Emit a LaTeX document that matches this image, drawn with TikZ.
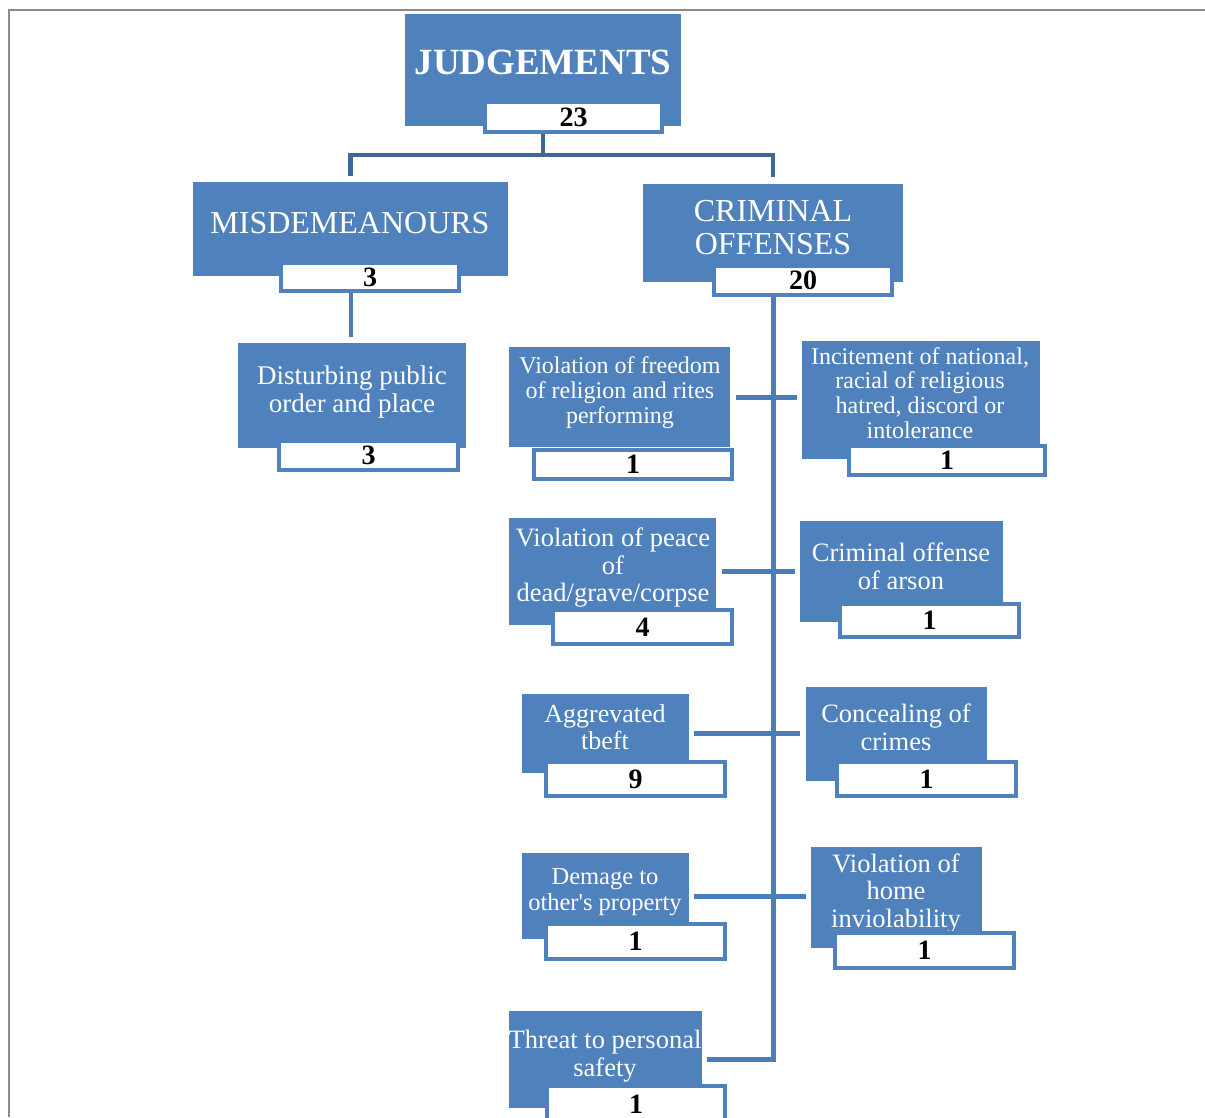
\documentclass[tikz,border=0pt]{standalone}
\usepackage{fontspec}
\setmainfont{Liberation Serif}[Ligatures=TeXOff]
\definecolor{boxblue}{HTML}{4F81BD}
\definecolor{lineblue}{HTML}{4A7EBB}
\definecolor{topblue}{HTML}{3F6797}
\definecolor{framegray}{HTML}{8C8C8C}

\begin{document}
\begin{tikzpicture}[x=1pt,y=-1pt,
  catbox/.style={rectangle,fill=boxblue,inner sep=0pt},
  cattext/.style={text=white,align=center,inner sep=0pt},
  countbox/.style={rectangle,fill=white,draw=boxblue,line width=4pt,inner sep=0pt,
    font=\fontsize{28}{28}\selectfont\bfseries},
  branch/.style={lineblue,line width=5pt},
  topline/.style={topblue,line width=4.5pt}]
  \clip (0,0) rectangle (1205,1117);
  % page frame
  \draw[framegray,line width=1.5pt] (9,1117) -- (9,10) -- (1205,10);

  % Top of the tree
  \node[catbox,minimum width=276pt,minimum height=112pt] (judg) at (543,70) {};
  \node[cattext,font=\fontsize{37}{37}\selectfont\bfseries] (judgtxt) at (543,62) {JUDGEMENTS};
  \node[catbox,minimum width=315pt,minimum height=94pt] (misd) at (350.5,229) {};
  \node[cattext,font=\fontsize{32}{33}\selectfont] (misdtxt) at (350,223) {MISDEMEANOURS};
  \node[catbox,minimum width=260pt,minimum height=98pt] (crim) at (773,233) {};
  \node[cattext,font=\fontsize{32}{33}\selectfont] (crimtxt) at (773,228) {CRIMINAL\\OFFENSES};
  \node[catbox,minimum width=228pt,minimum height=105pt] (disturb) at (352,395.5) {};
  \node[cattext,font=\fontsize{27}{28}\selectfont] (disturbtxt) at (352,392) {Disturbing public\\order and place};

  % Criminal offenses, left column
  \node[catbox,minimum width=221pt,minimum height=100pt] (relig) at (619.5,397) {};
  \node[cattext,font=\fontsize{24}{25}\selectfont] (religtxt) at (620,393) {Violation of freedom\\of religion and rites\\performing};
  \node[catbox,minimum width=207pt,minimum height=107pt] (peace) at (612.5,571.5) {};
  \node[cattext,font=\fontsize{26.5}{27.5}\selectfont] (peacetxt) at (613,568) {Violation of peace\\of\\dead/grave/corpse};
  \node[catbox,minimum width=167pt,minimum height=79pt] (theft) at (605.5,733.5) {};
  \node[cattext,font=\fontsize{26}{27}\selectfont] (thefttxt) at (605,727) {Aggrevated\\tbeft};
  \node[catbox,minimum width=167pt,minimum height=86pt] (damage) at (605.5,896) {};
  \node[cattext,font=\fontsize{24.5}{26}\selectfont] (damagetxt) at (605,892) {Demage to\\other's property};
  \node[catbox,minimum width=193pt,minimum height=97pt] (threat) at (605.5,1059.5) {};
  \node[cattext,font=\fontsize{26.5}{28}\selectfont] (threattxt) at (605,1056) {Threat to personal\\safety};

  % Criminal offenses, right column
  \node[catbox,minimum width=238pt,minimum height=118pt] (incite) at (921,400) {};
  \node[cattext,font=\fontsize{24}{24.7}\selectfont] (incitetxt) at (920,393) {Incitement of national,\\racial of religious\\hatred, discord or\\intolerance};
  \node[catbox,minimum width=203pt,minimum height=101pt] (arson) at (901.5,571.5) {};
  \node[cattext,font=\fontsize{26.5}{28}\selectfont] (arsontxt) at (901,566) {Criminal offense\\of arson};
  \node[catbox,minimum width=181pt,minimum height=94pt] (conceal) at (896.5,734) {};
  \node[cattext,font=\fontsize{26.5}{28}\selectfont] (concealtxt) at (896,727) {Concealing of\\crimes};
  \node[catbox,minimum width=171pt,minimum height=101pt] (home) at (896.5,897.5) {};
  \node[cattext,font=\fontsize{26.5}{27.5}\selectfont] (hometxt) at (896,893.5) {Violation of\\home\\inviolability};

  % connectors
  \draw[topline,shorten >=6pt] (judg.south) -- ++(0,29) -| (misd.north);
  \draw[topline,shorten >=7pt] (judg.south) ++(0,29) -| (crim.north);
  \draw[branch,line width=4pt,shorten >=6pt] (misd.south) -- (misd.south |- disturb.north);
  \draw[branch,shorten >=5pt] (crim.south) |- (threat.east);
  \draw[branch,shorten <=6pt,shorten >=5pt] (relig.east) -- (relig.east -| incite.west);
  \draw[branch,shorten <=6pt,shorten >=5pt] (peace.east) -- (peace.east -| arson.west);
  \draw[branch,shorten <=5pt,shorten >=6pt] (theft.east) -- (theft.east -| conceal.west);
  \draw[branch,shorten <=5pt,shorten >=5pt] (damage.east) -- (damage.east -| home.west);

  % counts
  \node[countbox,minimum width=177pt,minimum height=30pt] (judgnum) at (573.5,117) {23};
  \node[countbox,minimum width=178pt,minimum height=28pt] (misdnum) at (370,277) {3};
  \node[countbox,minimum width=178pt,minimum height=29pt] (crimnum) at (803,280.5) {20};
  \node[countbox,minimum width=179pt,minimum height=29pt] (disturbnum) at (368.5,455.5) {3};
  \node[countbox,minimum width=198pt,minimum height=29pt] (relignum) at (633,464.5) {1};
  \node[countbox,minimum width=196pt,minimum height=29pt] (incitenum) at (947,460.5) {1};
  \node[countbox,minimum width=179pt,minimum height=34pt] (peacenum) at (642.5,627) {4};
  \node[countbox,minimum width=179pt,minimum height=33pt] (arsonnum) at (929.5,620.5) {1};
  \node[countbox,minimum width=179pt,minimum height=34pt] (theftnum) at (635.5,779) {9};
  \node[countbox,minimum width=179pt,minimum height=34pt] (concealnum) at (926.5,779) {1};
  \node[countbox,minimum width=179pt,minimum height=35pt] (damagenum) at (635.5,941.5) {1};
  \node[countbox,minimum width=179pt,minimum height=35pt] (homenum) at (924.5,950.5) {1};
  \node[countbox,minimum width=178pt,minimum height=36pt] (threatnum) at (636,1104) {1};
\end{tikzpicture}
\end{document}
